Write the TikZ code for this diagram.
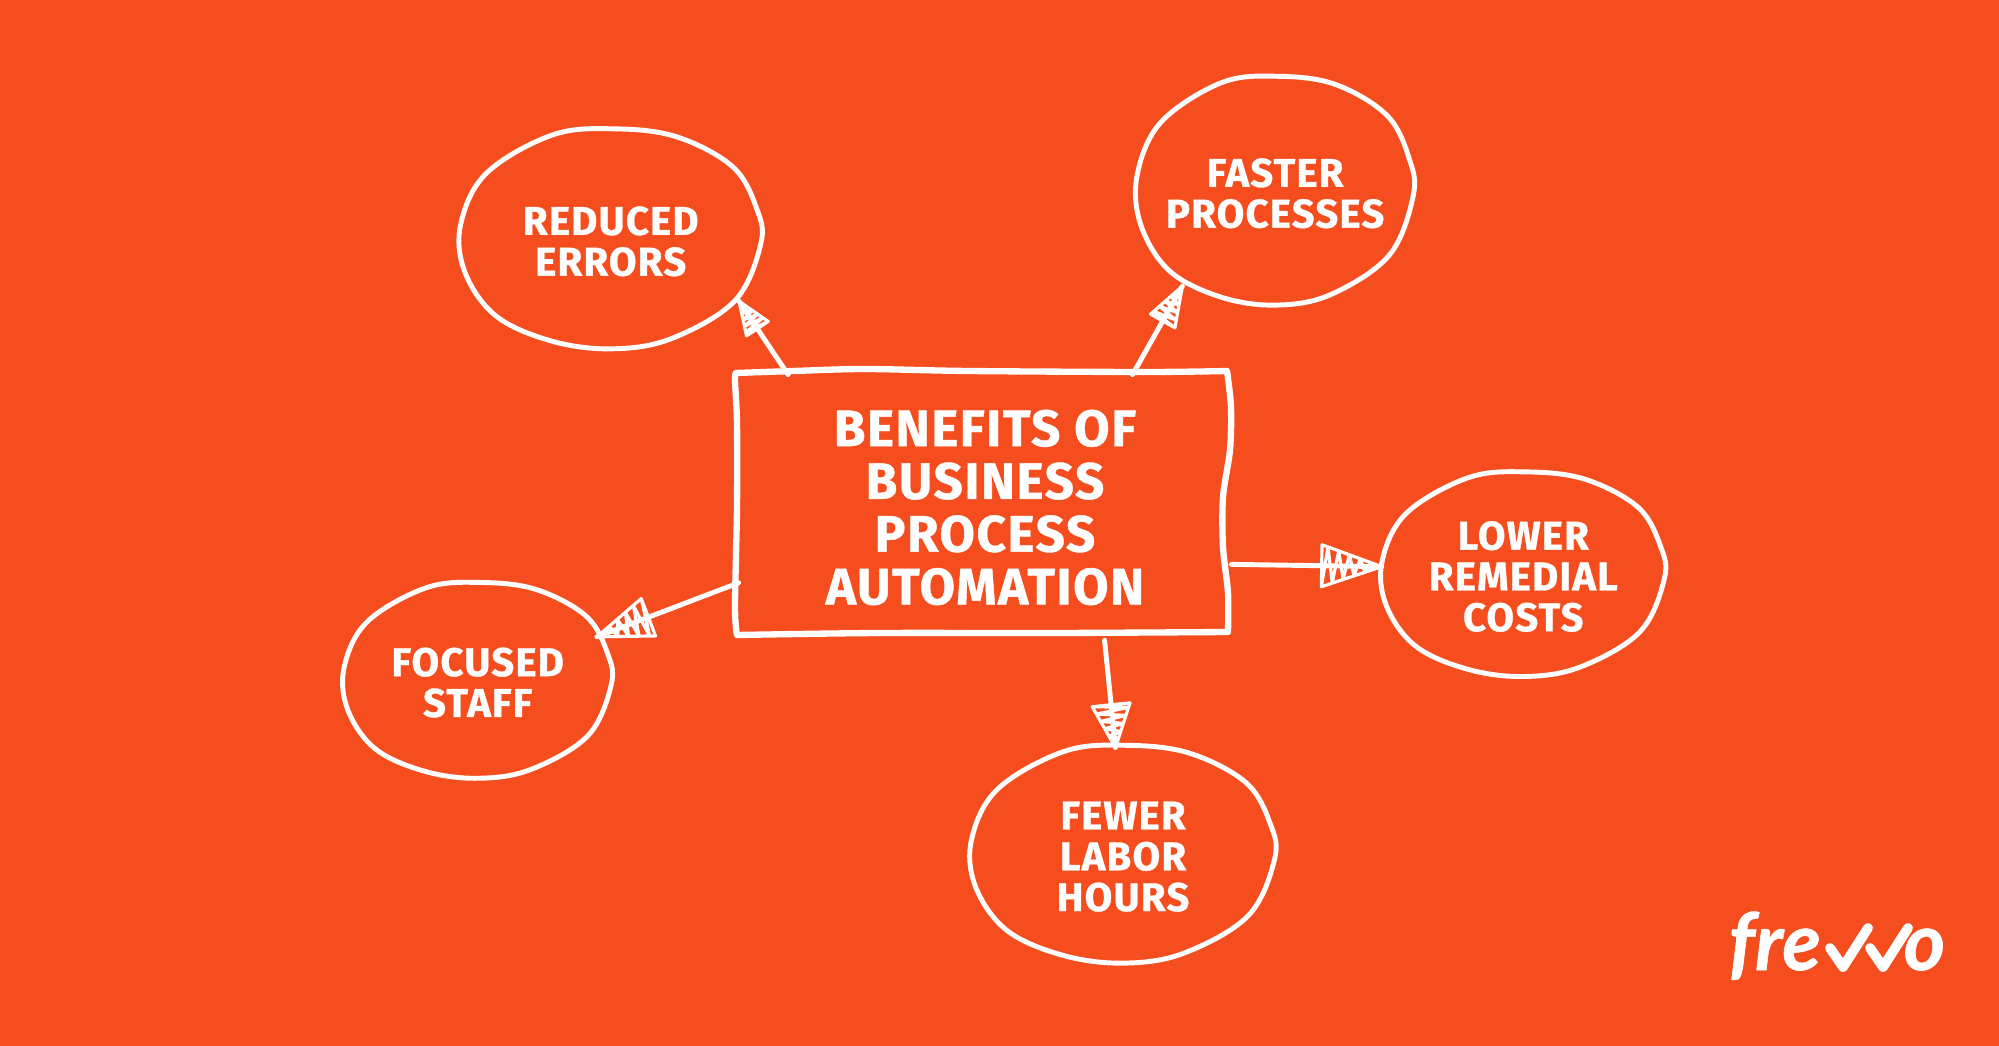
\documentclass[tikz,border=0pt]{standalone}
\usepackage{fontspec}
\usepackage{tikz}
\usetikzlibrary{shapes.geometric,decorations.markings}
\newfontfamily\sketchfont[LetterSpace=3,BoldFeatures={FakeBold=0.8}]{Fira Sans}
\newfontfamily\logofont[BoldItalicFeatures={FakeBold=0.8}]{Lato}
\definecolor{frevoorange}{HTML}{F54D1E}
\tikzset{
blobline/.pic={\draw[sketch, yshift=0.025cm] plot[smooth cycle, tension=0.6] coordinates {(-124,-66) (-58,-104) (4,-110) (66,-102) (122,-72) (146,-30) (150,5) (124,62) (60,100) (0,110) (-60,102) (-115,77) (-146,33) (-150,-15)};},
boxline/.pic={\draw[sketch, yshift=0.025cm, line width=1.8pt] plot[smooth] coordinates {(-249,-132) (-191,-134) (-120,-136) (-17,-134) (161,-133) (242,-134)}
  plot[smooth] coordinates {(242,-134) (246,-98) (245,-55) (238,-8) (238,42) (243,88) (243,127)}
  plot[smooth] coordinates {(243,127) (72,128) (-106,128) (-248,130)}
  plot[smooth] coordinates {(-248,130) (-250,102) (-248,2) (-248,-82) (-250,-125) (-249,-132)};}
}
\begin{document}
\begin{tikzpicture}[x=0.01cm, y=-0.01cm,
sketch/.style={draw=white, line width=1.4pt, line cap=round, line join=round},
blob/.style 2 args={ellipse, inner sep=0pt, minimum width=#1cm, minimum height=#2cm, text=white, align=center, font=\sketchfont\bfseries\fontsize{11.4}{11.6}\selectfont},
mainbox/.style={rectangle, inner sep=0pt, minimum width=4.91cm, minimum height=2.64cm, text=white, align=center, font=\sketchfont\bfseries\fontsize{14.6}{15}\selectfont},
logotext/.style={anchor=base west, inner sep=0pt, text=white, font=\logofont\bfseries\itshape\fontsize{22.6}{22.6}\selectfont},
sketchtip/.style 2 args={sketch, postaction={decorate, decoration={markings, mark=at position 1 with {
  \draw[sketch, line width=0.9pt, xscale=#1, yscale=#2] (0,0) -- (-1,1) -- (-1,-1) -- cycle
    (-1,1) -- (-.9,-.9) -- (-.82,.8) -- (-.72,-.72) -- (-.64,.62) -- (-.54,-.54) -- (-.46,.45) -- (-.36,-.35) -- (-.28,.26) -- (-.18,-.17) -- (0,0);}}}}
]
\useasboundingbox (0,0) rectangle (1999,1046);
\fill[frevoorange] (0,0) rectangle (1999,1046);
%Nodes
\node[mainbox]        (bpa)    at (985,507.5)                   {BENEFITS OF\\BUSINESS\\PROCESS\\AUTOMATION};
\node[blob={3.02}{2.22}]  (redu)  [left of = bpa, xshift=-2.74cm, yshift=2.66cm]    {REDUCED\\ERRORS};
\node[blob={2.79}{2.30}]  (fast)  [right of = bpa, xshift=1.90cm, yshift=3.14cm]    {FASTER\\PROCESSES};
\node[blob={2.83}{2.04}]  (lowr)  [right of = bpa, xshift=4.38cm, yshift=-0.69cm]   {LOWER\\REMEDIAL\\COSTS};
\node[blob={3.04}{2.17}]  (fewr)  [below of = bpa, xshift=1.38cm, yshift=-2.49cm]   {FEWER\\LABOR\\HOURS};
\node[blob={2.68}{1.95}]  (focu)  [left of = bpa, xshift=-4.07cm, yshift=-1.75cm]   {FOCUSED\\STAFF};
\node[logotext]       (fre)    at (1728,970)                    {fre};
\node[logotext]       (logoo)  at (1903,970)                    {o};
%Outlines
\pic at (bpa) {boxline};
\pic[xscale=1.00, yscale=1.00] at (redu) {blobline};
\pic[xscale=0.92, yscale=1.04] at (fast) {blobline};
\pic[xscale=0.94, yscale=0.93] at (lowr) {blobline};
\pic[xscale=1.01, yscale=0.99] at (fewr) {blobline};
\pic[xscale=0.89, yscale=0.89] at (focu) {blobline};
%Lines
\draw[sketchtip={33}{13}] (bpa.146) -- (redu.-25);
\draw[sketchtip={40}{14}] (bpa.42)  -- (fast.225);
\draw[sketchtip={60}{21}] (bpa.-13.5) -- (lowr.176);
\draw[sketchtip={43}{19}] (bpa.-48) -- (fewr.94);
\draw[sketchtip={55}{20}] (bpa.197) -- (focu.21);
%Logo
\draw[white, line width=2.8pt, line cap=round, line join=round] (1830,948) -- (1843,967) -- (1868,928) (1870,948) -- (1883,967) -- (1908,928);
\end{tikzpicture}
\end{document}
